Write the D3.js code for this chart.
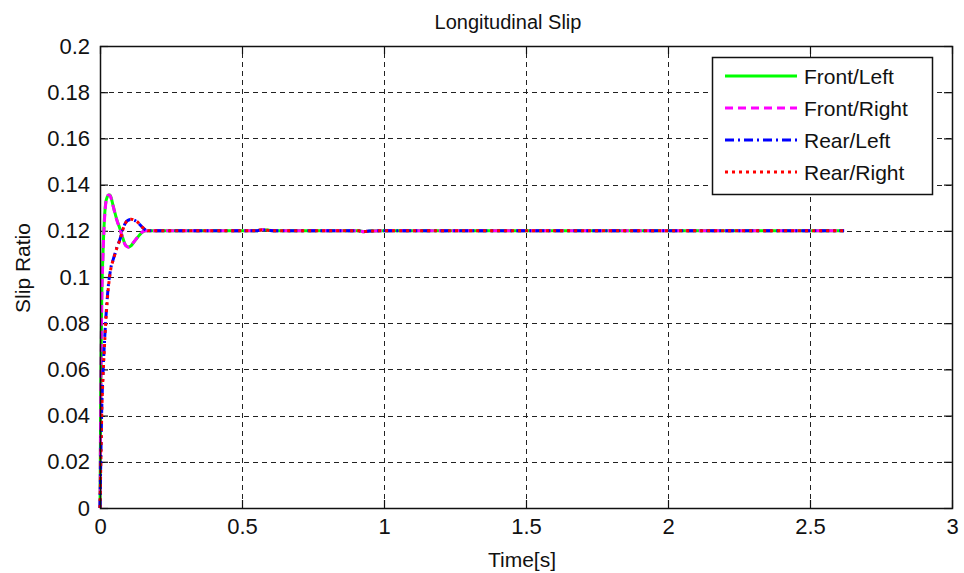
<!DOCTYPE html>
<html>
<head>
<meta charset="utf-8">
<script src="https://cdn.jsdelivr.net/npm/d3@7"></script>
<style>
  html, body { margin: 0; padding: 0; background: #ffffff; }
  svg { display: block; }
  text { font-family: "Liberation Sans", Arial, Helvetica, sans-serif; fill: #111; }
</style>
</head>
<body>
<svg id="chart" width="964" height="573"></svg>
<script>
// Simulation time samples (s)
const time = [0, 0.003, 0.006, 0.01, 0.015, 0.02, 0.025, 0.03, 0.035, 0.04, 0.045, 0.05,
  0.06, 0.07, 0.08, 0.09, 0.1, 0.11, 0.12, 0.13, 0.14, 0.15, 0.16, 0.17, 0.2,
  0.55, 0.57, 0.59, 0.62, 0.91, 0.93, 0.95, 1.0, 2.62];

// Longitudinal slip ratio of each wheel
const frontLeft = [0, 0.055, 0.09, 0.108, 0.124, 0.132, 0.1345, 0.1355, 0.1355, 0.134, 0.1315, 0.129,
  0.1245, 0.121, 0.117, 0.1138, 0.113, 0.1136, 0.1152, 0.1168, 0.1183, 0.1195, 0.12, 0.12, 0.12,
  0.12, 0.1205, 0.1203, 0.12, 0.12, 0.1196, 0.1199, 0.12, 0.12];
const frontRight = [0, 0.052, 0.088, 0.107, 0.123, 0.1315, 0.1345, 0.1355, 0.1353, 0.1338, 0.1313, 0.1288,
  0.1243, 0.1208, 0.1168, 0.1136, 0.1129, 0.1137, 0.1153, 0.1169, 0.1184, 0.1196, 0.12, 0.12, 0.12,
  0.12, 0.1205, 0.1203, 0.12, 0.12, 0.1196, 0.1199, 0.12, 0.12];
const rearLeft = [0, 0.022, 0.042, 0.057, 0.07, 0.081, 0.09, 0.097, 0.1015, 0.105, 0.107, 0.109,
  0.113, 0.1162, 0.1205, 0.1235, 0.1246, 0.1249, 0.1246, 0.1239, 0.1227, 0.1214, 0.1204, 0.12, 0.12,
  0.12, 0.1204, 0.1202, 0.12, 0.12, 0.1197, 0.1199, 0.12, 0.12];
const rearRight = [0, 0.02, 0.04, 0.055, 0.068, 0.08, 0.089, 0.096, 0.101, 0.1048, 0.1068, 0.1088,
  0.1128, 0.116, 0.1203, 0.1234, 0.1247, 0.125, 0.1247, 0.124, 0.1228, 0.1215, 0.1204, 0.12, 0.12,
  0.12, 0.1204, 0.1202, 0.12, 0.12, 0.1197, 0.1199, 0.12, 0.12];

const seriesNames = ["Front/Left", "Front/Right", "Rear/Left", "Rear/Right"];
const seriesValues = [frontLeft, frontRight, rearLeft, rearRight];
const seriesColors = ["#00ff00", "#ff00ff", "#0000ff", "#ff0000"];
const seriesDash = [null, "8,5", "9,4,2,4", "3,4"];

const xTicks = [0, 0.5, 1, 1.5, 2, 2.5, 3];
const yTicks = [0, 0.02, 0.04, 0.06, 0.08, 0.1, 0.12, 0.14, 0.16, 0.18, 0.2];

const titleText = "Longitudinal Slip";
const xLabel = "Time[s]";
const yLabel = "Slip Ratio";

// Layout
const plot = { left: 100, right: 952, top: 46, bottom: 508 };
const svg = d3.select("#chart");

const x = d3.scaleLinear().domain([0, 3]).range([plot.left, plot.right]);
const y = d3.scaleLinear().domain([0, 0.2]).range([plot.bottom, plot.top]);

const fmt = d => String(+d.toFixed(2));

// Dashed grid
const grid = svg.append("g").attr("stroke", "#222").attr("stroke-width", 1)
  .attr("stroke-dasharray", "5,4").attr("shape-rendering", "crispEdges");
grid.selectAll("line.gx").data(xTicks.slice(1, -1)).join("line")
  .attr("x1", d => Math.round(x(d)) + 0.5).attr("x2", d => Math.round(x(d)) + 0.5)
  .attr("y1", plot.bottom).attr("y2", plot.top);
grid.selectAll("line.gy").data(yTicks.slice(1, -1)).join("line")
  .attr("y1", d => Math.round(y(d)) + 0.5).attr("y2", d => Math.round(y(d)) + 0.5)
  .attr("x1", plot.left).attr("x2", plot.right);

// Axes with inward ticks on all four sides
const tickLen = 8;
const axisFont = "22px";
const bottomAxis = svg.append("g").attr("transform", `translate(0,${plot.bottom})`)
  .call(d3.axisBottom(x).tickValues(xTicks).tickFormat(fmt).tickSizeInner(-tickLen).tickSizeOuter(0).tickPadding(16));
const topAxis = svg.append("g").attr("transform", `translate(0,${plot.top})`)
  .call(d3.axisTop(x).tickValues(xTicks).tickFormat("").tickSizeInner(-tickLen).tickSizeOuter(0));
const leftAxis = svg.append("g").attr("transform", `translate(${plot.left},0)`)
  .call(d3.axisLeft(y).tickValues(yTicks).tickFormat(fmt).tickSizeInner(-tickLen).tickSizeOuter(0).tickPadding(10));
const rightAxis = svg.append("g").attr("transform", `translate(${plot.right},0)`)
  .call(d3.axisRight(y).tickValues(yTicks).tickFormat("").tickSizeInner(-tickLen).tickSizeOuter(0));

[bottomAxis, topAxis, leftAxis, rightAxis].forEach(g => {
  g.select(".domain").remove();
  g.selectAll(".tick line").attr("stroke", "#111").attr("stroke-width", 1.2);
  g.selectAll("text").attr("font-size", axisFont).attr("fill", "#111")
    .attr("font-family", "'Liberation Sans', Arial, sans-serif");
});
bottomAxis.selectAll("text").attr("dy", null).attr("y", 26).attr("dominant-baseline", "alphabetic");

// Data lines
const line = d3.line().x((d, i) => x(time[i])).y(d => y(d)).curve(d3.curveMonotoneX);
const lines = svg.append("g").attr("fill", "none");
seriesValues.forEach((vals, k) => {
  lines.append("path").datum(vals)
    .attr("d", line)
    .attr("stroke", seriesColors[k])
    .attr("stroke-width", 3)
    .attr("stroke-dasharray", seriesDash[k])
    .attr("stroke-linejoin", "round");
});

// Plot frame
svg.append("rect")
  .attr("x", plot.left + 0.5).attr("y", plot.top + 0.5)
  .attr("width", plot.right - plot.left).attr("height", plot.bottom - plot.top)
  .attr("fill", "none").attr("stroke", "#111").attr("stroke-width", 1.5);

// Legend
const legend = svg.append("g");
legend.append("rect")
  .attr("x", 712.5).attr("y", 57.5).attr("width", 220).attr("height", 137)
  .attr("fill", "#fff").attr("stroke", "#111").attr("stroke-width", 1.5);
seriesNames.forEach((name, k) => {
  const ry = 76 + k * 32;
  legend.append("line")
    .attr("x1", 725).attr("x2", 797).attr("y1", ry).attr("y2", ry)
    .attr("stroke", seriesColors[k]).attr("stroke-width", 3)
    .attr("stroke-dasharray", seriesDash[k]);
  legend.append("text")
    .attr("x", 804).attr("y", ry).attr("dy", "0.36em")
    .attr("font-size", "21px").text(name);
});

// Titles
svg.append("text").attr("x", 508).attr("y", 29).attr("text-anchor", "middle")
  .attr("font-size", "20px").text(titleText);
svg.append("text").attr("x", 522).attr("y", 567).attr("text-anchor", "middle")
  .attr("font-size", "21px").text(xLabel);
svg.append("text").attr("transform", "translate(30,268) rotate(-90)")
  .attr("text-anchor", "middle").attr("font-size", "21px").text(yLabel);
</script>
</body>
</html>
